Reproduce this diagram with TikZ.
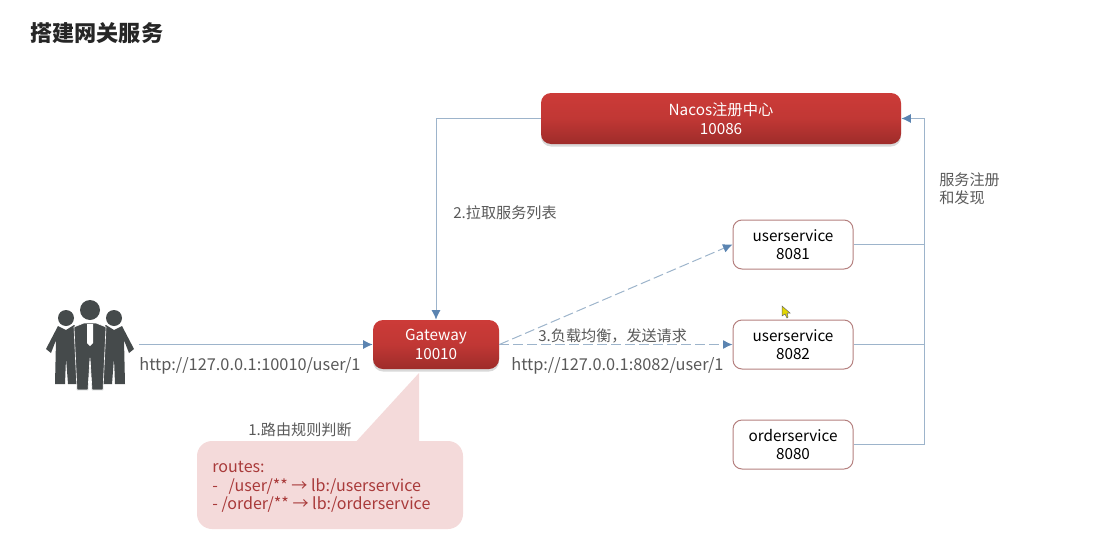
\documentclass[tikz,border=0pt]{standalone}
\usepackage{fontspec}
\setmainfont{Noto Sans CJK SC}
\usepackage{tikz}
\usetikzlibrary{shadows,arrows.meta}
\definecolor{flowblue}{HTML}{5B84B1}
\definecolor{lineblue}{HTML}{9DB4CB}
\definecolor{textgray}{HTML}{595959}
\definecolor{redtop}{HTML}{CC3B38}
\definecolor{redbottom}{HTML}{9E2C2A}
\definecolor{iconfill}{HTML}{454A4B}
\definecolor{calloutfill}{HTML}{F4DADA}
\definecolor{callouttext}{HTML}{A93A3A}
\tikzset{
 redbox/.style={rectangle, rounded corners=2mm, top color=redtop, bottom color=redbottom, middle color=redtop!75!redbottom, text=white, align=center, drop shadow={opacity=0.3, shadow xshift=0mm, shadow yshift=-0.5mm}, font=\fontsize{8.7}{10.6}\selectfont},
 svcbox/.style={rectangle, rounded corners=1.8mm, draw=redtop!45!gray!80!white, line width=0.2mm, fill=white, minimum width=24mm, minimum height=9.8mm, align=center, inner sep=0pt, font=\fontsize{8.7}{10.6}\selectfont},
 tag/.style={text=textgray, align=left, inner sep=0pt, font=\fontsize{8.6}{10.4}\selectfont},
 urltag/.style={tag, font=\fontsize{9.3}{11}\selectfont},
 flow/.style={draw=lineblue, line width=0.2mm, arrows={-{Latex[length=1.9mm,width=1.8mm,color=flowblue]}}},
 dashflow/.style={flow, dash pattern=on 2mm off 0.8mm},
 busline/.style={draw=lineblue, line width=0.2mm},
 figure/.style={fill=iconfill}
}
\begin{document}
\begin{tikzpicture}[x=0.2mm, y=-0.2mm]
 \useasboundingbox (0,0) rectangle (1097,552);
 \node[anchor=west, inner sep=0pt, text=black!85, font=\fontsize{12.6}{15}\selectfont\bfseries] (title) at (30,33) {搭建网关服务};

 \node[redbox, minimum width=72mm, minimum height=10.2mm, inner sep=0pt] (nacos) at (721,118.5) {Nacos注册中心\\10086};
 \node[redbox, minimum width=25.2mm, minimum height=9.8mm, inner sep=0pt] (gateway) at (436,344.5) {Gateway\\10010};
 \node[svcbox] (user1) at (793,244.5) {userservice\\8081};
 \node[svcbox] (user2) at (793,344.5) {userservice\\8082};
 \node[svcbox] (order) at (793,444.5) {orderservice\\8080};
 \node[minimum width=20mm, minimum height=17mm, inner sep=0pt] (users) at (89,344.5) {};
 \coordinate (regbus) at (924,300);

 % people icon
 \fill[figure] (46,349) -- (58,326) -- (66,330) -- (74,325) -- (80,330) -- (77,384) -- (68,384) -- (66,358) -- (65,384) -- (55,384) -- (56,340) -- (51,353) -- cycle;
 \fill[figure] (134,349) -- (122,326) -- (114,330) -- (106,325) -- (100,330) -- (103,384) -- (112,384) -- (114,358) -- (115,384) -- (125,384) -- (124,340) -- (129,353) -- cycle;
 \filldraw[figure, draw=white, line width=0.12mm] (74,327) -- (84,323) -- (96,323) -- (106,327) -- (103,390) -- (92,390) -- (90,358) -- (88,390) -- (77,390) -- cycle;
 \fill[white] (87,324) -- (93,324) -- (93,343) -- (90,346) -- (87,343) -- cycle;
 \fill[iconfill] (90,310) circle (10);
 \fill[iconfill] (66,318) circle (8);
 \fill[iconfill] (114,318) circle (8);

 \draw[flow] (users.east) -- (gateway.west);
 \draw[flow] (nacos.west) -| (gateway.north);
 \draw[dashflow] (gateway.east) -- (user1.west);
 \draw[dashflow] (gateway.east) -- (user2.west);
 \draw[flow] (order.east) -| (regbus) |- (nacos.east);
 \draw[busline] (user1.east) -- (user1.east -| regbus);
 \draw[busline] (user2.east) -- (user2.east -| regbus);

 % routing note
 \fill[calloutfill] (353,445) -- (419,373) -- (419,445) -- cycle;
 \node[rectangle, rounded corners=3mm, fill=calloutfill, minimum width=53.2mm, minimum height=17.6mm, inner sep=0pt] (routes) at (330,485) {};
 \node[anchor=west, text=callouttext, inner sep=0pt, align=left, font=\fontsize{9.15}{10.6}\selectfont] (routetext) at (212,487) {routes:\\-\ \ \ /user/** → lb:/userservice\\- /order/** → lb:/orderservice};

 \node[urltag, anchor=west] (urlin) at (139,366) {http://127.0.0.1:10010/user/1};
 \node[urltag, anchor=west] (urlout) at (511,366) {http://127.0.0.1:8082/user/1};
 \node[tag, anchor=west] (step1) at (248,430) {1.路由规则判断};
 \node[tag, anchor=west] (step2) at (453,213) {2.拉取服务列表};
 \node[tag, anchor=west] (step3) at (538,336) {3.负载均衡，发送请求};
 \node[tag, anchor=north west] (regnote) at (939,172.5) {服务注册\\和发现};

 % cursor
 \fill[yellow!75!olive, draw=black!60, line width=0.1mm] (782,306) -- (782,316) -- (785,314) -- (787,318) -- (788,317) -- (787,313) -- (790,313) -- cycle;
\end{tikzpicture}
\end{document}
